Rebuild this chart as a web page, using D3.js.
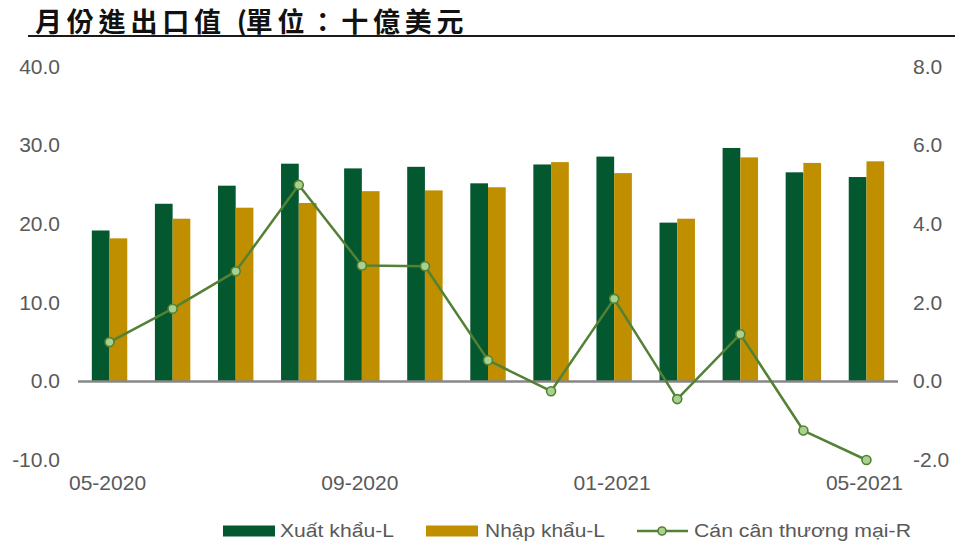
<!DOCTYPE html>
<html>
<head>
<meta charset="utf-8">
<script src="https://cdn.jsdelivr.net/npm/d3@7/dist/d3.min.js"></script>
<style>
  html, body { margin: 0; padding: 0; background: #fff; }
  svg { display: block; }
  text { font-family: "Liberation Sans", Arial, sans-serif; }
</style>
</head>
<body>
<svg id="chart" width="955" height="543"></svg>
<script>
// Monthly trade figures (USD billions), May 2020 – May 2021
const months = ["05-2020","06-2020","07-2020","08-2020","09-2020","10-2020","11-2020",
                "12-2020","01-2021","02-2021","03-2021","04-2021","05-2021"];
const exportsL = [19.2, 22.6, 24.9, 27.7, 27.1, 27.3, 25.2, 27.6, 28.6, 20.2, 29.7, 26.6, 26.0];
const importsL = [18.2, 20.7, 22.1, 22.7, 24.2, 24.3, 24.7, 27.9, 26.5, 20.7, 28.5, 27.8, 28.0];
const balanceR = [1.0, 1.85, 2.8, 5.0, 2.95, 2.93, 0.54, -0.25, 2.1, -0.45, 1.2, -1.25, -2.0];
const xTickLabels = ["05-2020","09-2020","01-2021","05-2021"];
const leftTicks = [-10, 0, 10, 20, 30, 40];
const rightTicks = [-2, 0, 2, 4, 6, 8];
const seriesNames = ["Xuất khẩu-L", "Nhập khẩu-L", "Cán cân thương mại-R"];
const titleHead = "月份進出口值 (";
const titleTail = "單位：十億美元";

const colors = { exp: "#03582F", imp: "#BF8F00", line: "#538135", marker: "#A9D18E" };
const tickColor = "#595959";
const fmt = d => d.toFixed(1);

const svg = d3.select("#chart");

// Title with rule beneath
const title = svg.append("text")
  .attr("x", 35).attr("y", 32)
  .style("font-family", "'Noto Sans CJK TC', 'Noto Sans CJK SC', sans-serif")
  .style("font-weight", 700)
  .style("font-size", "27px")
  .style("letter-spacing", "4.8px")
  .attr("fill", "#111");
title.append("tspan").text(titleHead);
title.append("tspan").attr("dx", -6).text(titleTail);
svg.append("line")
  .attr("x1", 28).attr("x2", 955).attr("y1", 36).attr("y2", 36)
  .attr("stroke", "#1a1a1a").attr("stroke-width", 2);

// Scales
const x = d3.scaleBand().domain(months).range([78, 898]).padding(0);
const xInner = d3.scaleBand().domain(["exp", "imp"]).range([0, x.bandwidth()])
  .paddingInner(0).paddingOuter(0.78);
const yL = d3.scaleLinear().domain([-10, 40]).range([460, 67]);
const yR = d3.scaleLinear().domain([-2, 8]).range([460, 67]);

// Left axis labels
const axL = svg.append("g").attr("transform", "translate(60,0)")
  .call(d3.axisLeft(yL).tickValues(leftTicks).tickSize(0).tickPadding(0).tickFormat(fmt));
axL.select(".domain").remove();
axL.selectAll("text").attr("fill", tickColor).style("font-size", "21px")
  .style("font-family", "'Liberation Sans', Arial, sans-serif").attr("dy", "0.3em");

// Right axis labels
const axR = svg.append("g").attr("transform", "translate(913,0)")
  .call(d3.axisRight(yR).tickValues(rightTicks).tickSize(0).tickPadding(0).tickFormat(fmt));
axR.select(".domain").remove();
axR.selectAll("text").attr("fill", tickColor).style("font-size", "21px")
  .style("font-family", "'Liberation Sans', Arial, sans-serif").attr("dy", "0.3em");

// Category labels
const axB = svg.append("g").attr("transform", "translate(-2,475)")
  .call(d3.axisBottom(x).tickValues(xTickLabels).tickSize(0).tickPadding(0));
axB.select(".domain").remove();
axB.selectAll("text").attr("fill", tickColor).style("font-size", "21px")
  .style("font-family", "'Liberation Sans', Arial, sans-serif").attr("dy", "0.71em");

// Bars
const groups = svg.append("g").selectAll("g")
  .data(months.map((m, i) => ({ m, exp: exportsL[i], imp: importsL[i] })))
  .join("g").attr("transform", d => `translate(${x(d.m)},0)`);

groups.selectAll("rect")
  .data(d => [{ k: "exp", v: d.exp }, { k: "imp", v: d.imp }])
  .join("rect")
  .attr("x", d => xInner(d.k))
  .attr("width", xInner.bandwidth())
  .attr("y", d => yL(Math.max(0, d.v)))
  .attr("height", d => Math.abs(yL(d.v) - yL(0)))
  .attr("fill", d => colors[d.k]);

// Zero baseline
svg.append("line")
  .attr("x1", 78).attr("x2", 898).attr("y1", yL(0)).attr("y2", yL(0))
  .attr("stroke", "#878787").attr("stroke-width", 2.5);

// Trade balance line
const cx = (m) => x(m) + x.bandwidth() / 2;
const pts = months.map((m, i) => [cx(m), yR(balanceR[i])]);
svg.append("path")
  .attr("d", d3.line()(pts))
  .attr("fill", "none").attr("stroke", colors.line).attr("stroke-width", 2.5)
  .attr("stroke-linejoin", "round");
svg.append("g").selectAll("circle").data(pts).join("circle")
  .attr("cx", d => d[0]).attr("cy", d => d[1]).attr("r", 4.5)
  .attr("fill", colors.marker).attr("stroke", colors.line).attr("stroke-width", 1.6);

// Legend
const lg = svg.append("g");
const legendY = 531;
lg.append("rect").attr("x", 223).attr("y", legendY - 5.5).attr("width", 52).attr("height", 11).attr("fill", colors.exp);
lg.append("text").attr("x", 280).attr("y", legendY).attr("dy", "0.36em")
  .attr("fill", tickColor).style("font-size", "18px")
  .attr("textLength", 114).attr("lengthAdjust", "spacingAndGlyphs").text(seriesNames[0]);
lg.append("rect").attr("x", 426).attr("y", legendY - 5.5).attr("width", 52).attr("height", 11).attr("fill", colors.imp);
lg.append("text").attr("x", 485).attr("y", legendY).attr("dy", "0.36em")
  .attr("fill", tickColor).style("font-size", "18px")
  .attr("textLength", 120).attr("lengthAdjust", "spacingAndGlyphs").text(seriesNames[1]);
lg.append("line").attr("x1", 637).attr("x2", 688).attr("y1", legendY).attr("y2", legendY)
  .attr("stroke", colors.line).attr("stroke-width", 2.5);
lg.append("circle").attr("cx", 662).attr("cy", legendY).attr("r", 4)
  .attr("fill", colors.marker).attr("stroke", colors.line).attr("stroke-width", 1.6);
lg.append("text").attr("x", 694).attr("y", legendY).attr("dy", "0.36em")
  .attr("fill", tickColor).style("font-size", "18px")
  .attr("textLength", 217).attr("lengthAdjust", "spacingAndGlyphs").text(seriesNames[2]);
</script>
</body>
</html>
